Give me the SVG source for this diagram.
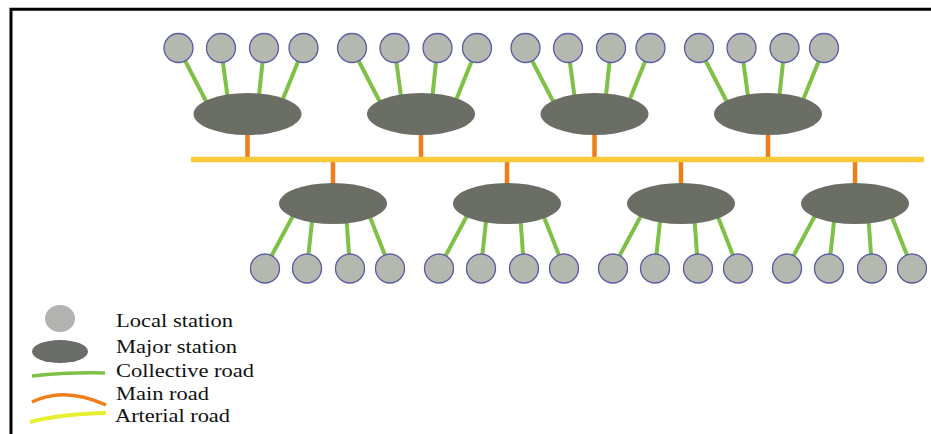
<svg xmlns="http://www.w3.org/2000/svg" width="931" height="434" viewBox="0 0 931 434">
<defs>
<style>
.loc{fill:#b5b8ae;stroke:#5b5ba6;stroke-width:1.3}
.maj{fill:#6b6e65}
.col{stroke:#7fc147;stroke-width:4;stroke-linecap:butt;fill:none}
.main{stroke:#ef7d1a;stroke-width:4.5;fill:none}
.art{stroke:#f9c93c;stroke-width:5.5;fill:none}
.lbl{font-family:"Liberation Serif","Times New Roman",serif;font-size:19px;fill:#111}
</style>
<g id="topset">
<line class="col" x1="-69" y1="48" x2="-40" y2="104"/>
<line class="col" x1="-26.5" y1="48" x2="-19.5" y2="100"/>
<line class="col" x1="16.5" y1="48" x2="11" y2="100"/>
<line class="col" x1="56" y1="48" x2="35" y2="100"/>
</g>
<g id="botset">
<line class="col" x1="-68" y1="268" x2="-38" y2="212"/>
<line class="col" x1="-26" y1="268" x2="-20" y2="212"/>
<line class="col" x1="17" y1="268" x2="13" y2="212"/>
<line class="col" x1="57" y1="268" x2="35" y2="212"/>
</g>
</defs>
<rect width="931" height="434" fill="#fff"/>
<g id="frame" fill="none" stroke="#000" stroke-width="3">
<polyline points="11,440 11,9.3 940,9.3"/>
</g>
<g id="connectors">
<use href="#topset" x="247.5"/>
<use href="#topset" x="421"/>
<use href="#topset" x="594.5"/>
<use href="#topset" x="768"/>
<use href="#botset" x="333"/>
<use href="#botset" x="507"/>
<use href="#botset" x="681"/>
<use href="#botset" x="855"/>
<line class="main" x1="247.5" y1="130" x2="247.5" y2="158"/>
<line class="main" x1="421" y1="130" x2="421" y2="158"/>
<line class="main" x1="594.5" y1="130" x2="594.5" y2="158"/>
<line class="main" x1="768" y1="130" x2="768" y2="158"/>
<line class="main" x1="333" y1="160" x2="333" y2="188"/>
<line class="main" x1="507" y1="160" x2="507" y2="188"/>
<line class="main" x1="681" y1="160" x2="681" y2="188"/>
<line class="main" x1="855" y1="160" x2="855" y2="188"/>
<line class="art" x1="191" y1="159.4" x2="924" y2="159.4"/>
</g>
<g id="major-top-1"><ellipse class="maj" cx="247.5" cy="114" rx="54" ry="21"/></g>
<g id="major-top-2"><ellipse class="maj" cx="421" cy="114" rx="54" ry="21"/></g>
<g id="major-top-3"><ellipse class="maj" cx="594.5" cy="114" rx="54" ry="21"/></g>
<g id="major-top-4"><ellipse class="maj" cx="768" cy="114" rx="54" ry="21"/></g>
<g id="major-bot-1"><ellipse class="maj" cx="333" cy="203.5" rx="54" ry="20.5"/></g>
<g id="major-bot-2"><ellipse class="maj" cx="507" cy="203.5" rx="54" ry="20.5"/></g>
<g id="major-bot-3"><ellipse class="maj" cx="681" cy="203.5" rx="54" ry="20.5"/></g>
<g id="major-bot-4"><ellipse class="maj" cx="855" cy="203.5" rx="54" ry="20.5"/></g>
<g id="local-top-1"><circle class="loc" cx="178.5" cy="48" r="14.5"/></g>
<g id="local-top-2"><circle class="loc" cx="221" cy="48" r="14.5"/></g>
<g id="local-top-3"><circle class="loc" cx="264" cy="48" r="14.5"/></g>
<g id="local-top-4"><circle class="loc" cx="303.5" cy="48" r="14.5"/></g>
<g id="local-top-5"><circle class="loc" cx="352" cy="48" r="14.5"/></g>
<g id="local-top-6"><circle class="loc" cx="394.5" cy="48" r="14.5"/></g>
<g id="local-top-7"><circle class="loc" cx="437.5" cy="48" r="14.5"/></g>
<g id="local-top-8"><circle class="loc" cx="477" cy="48" r="14.5"/></g>
<g id="local-top-9"><circle class="loc" cx="525.5" cy="48" r="14.5"/></g>
<g id="local-top-10"><circle class="loc" cx="568" cy="48" r="14.5"/></g>
<g id="local-top-11"><circle class="loc" cx="611" cy="48" r="14.5"/></g>
<g id="local-top-12"><circle class="loc" cx="650.5" cy="48" r="14.5"/></g>
<g id="local-top-13"><circle class="loc" cx="699" cy="48" r="14.5"/></g>
<g id="local-top-14"><circle class="loc" cx="741.5" cy="48" r="14.5"/></g>
<g id="local-top-15"><circle class="loc" cx="784.5" cy="48" r="14.5"/></g>
<g id="local-top-16"><circle class="loc" cx="824" cy="48" r="14.5"/></g>
<g id="local-bot-1"><circle class="loc" cx="265" cy="268.5" r="14.5"/></g>
<g id="local-bot-2"><circle class="loc" cx="307" cy="268.5" r="14.5"/></g>
<g id="local-bot-3"><circle class="loc" cx="350" cy="268.5" r="14.5"/></g>
<g id="local-bot-4"><circle class="loc" cx="390" cy="268.5" r="14.5"/></g>
<g id="local-bot-5"><circle class="loc" cx="439" cy="268.5" r="14.5"/></g>
<g id="local-bot-6"><circle class="loc" cx="481" cy="268.5" r="14.5"/></g>
<g id="local-bot-7"><circle class="loc" cx="524" cy="268.5" r="14.5"/></g>
<g id="local-bot-8"><circle class="loc" cx="564" cy="268.5" r="14.5"/></g>
<g id="local-bot-9"><circle class="loc" cx="613" cy="268.5" r="14.5"/></g>
<g id="local-bot-10"><circle class="loc" cx="655" cy="268.5" r="14.5"/></g>
<g id="local-bot-11"><circle class="loc" cx="698" cy="268.5" r="14.5"/></g>
<g id="local-bot-12"><circle class="loc" cx="738" cy="268.5" r="14.5"/></g>
<g id="local-bot-13"><circle class="loc" cx="787" cy="268.5" r="14.5"/></g>
<g id="local-bot-14"><circle class="loc" cx="829" cy="268.5" r="14.5"/></g>
<g id="local-bot-15"><circle class="loc" cx="872" cy="268.5" r="14.5"/></g>
<g id="local-bot-16"><circle class="loc" cx="912" cy="268.5" r="14.5"/></g>
<g id="legend">
<ellipse cx="60" cy="318.5" rx="15" ry="13.5" fill="#b2b3b0"/>
<ellipse cx="60" cy="351.5" rx="28" ry="11.5" fill="#6a6c68"/>
<path d="M32,376 Q70,372 105,373" stroke="#7fc147" stroke-width="3.5" fill="none"/>
<path d="M32,402 Q64,386 106,405" stroke="#ef7d1a" stroke-width="3.5" fill="none"/>
<path d="M30,422 Q60,414 106,413" stroke="#e8ef30" stroke-width="4" fill="none"/>
<text class="lbl" x="116" y="327" textLength="117" lengthAdjust="spacingAndGlyphs">Local station</text>
<text class="lbl" x="116" y="353" textLength="121" lengthAdjust="spacingAndGlyphs">Major station</text>
<text class="lbl" x="116" y="377" textLength="138" lengthAdjust="spacingAndGlyphs">Collective road</text>
<text class="lbl" x="116" y="400" textLength="93" lengthAdjust="spacingAndGlyphs">Main road</text>
<text class="lbl" x="115" y="422" textLength="115" lengthAdjust="spacingAndGlyphs">Arterial road</text>
</g>
</svg>
